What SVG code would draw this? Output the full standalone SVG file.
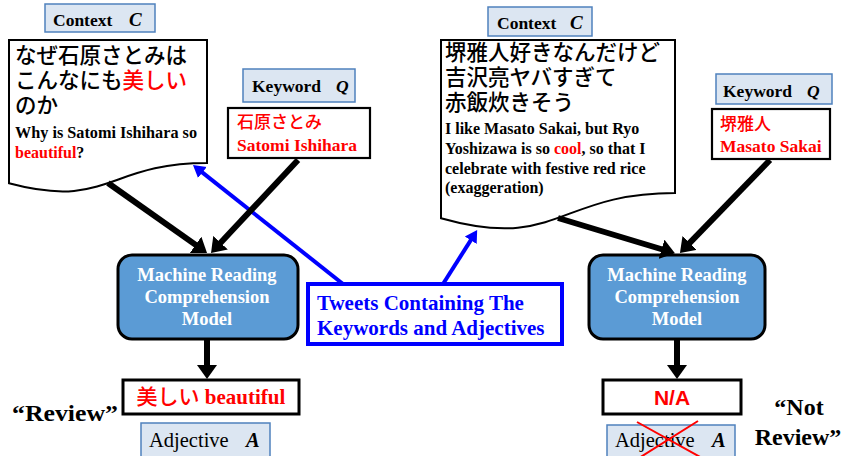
<svg xmlns="http://www.w3.org/2000/svg" width="844" height="456" viewBox="0 0 844 456">
<style>
.lbl{fill:#dce6f2;stroke:#4f81bd;stroke-width:1.5}
.doc{fill:#fff;stroke:#000;stroke-width:2}
.kw{fill:#fff;stroke:#000;stroke-width:2.2}
.mrc{fill:#5b9bd5;stroke:#000;stroke-width:3}
.ans{fill:#fff;stroke:#000;stroke-width:3}
.ser{font-family:"Liberation Serif","Times New Roman",serif}
.b{font-weight:bold}
.jp{font-family:"Noto Sans CJK JP","Noto Sans CJK SC",sans-serif;font-weight:500}
.red{fill:#ff0000}
.mt{font-family:"Liberation Serif",serif;font-weight:bold;font-size:18.5px;fill:#fff;text-anchor:middle}
.blk{stroke:#000;stroke-width:6;fill:none}
.blu{stroke:#0000ff;stroke-width:4;fill:none}
</style>
<defs>
<marker id="ah" markerUnits="userSpaceOnUse" markerWidth="16" markerHeight="20" refX="1" refY="10" orient="auto" viewBox="0 0 16 20">
<path d="M0,0 L14,10 L0,20 Z" fill="#000"/>
</marker>
<marker id="bh" markerUnits="userSpaceOnUse" markerWidth="14" markerHeight="16" refX="1" refY="8" orient="auto" viewBox="0 0 14 16">
<path d="M0,1 L12,8 L0,15 Z" fill="#0000ff"/>
</marker>
</defs>

<g id="context-left">
<rect class="lbl" x="45" y="4" width="110" height="28"/>
<text class="ser b" x="53" y="26" font-size="17.5">Context<tspan x="129" font-style="italic" font-size="19">C</tspan></text>
</g>
<g id="doc-left">
<path class="doc" d="M9,40 H207 V163 C108,163 108,209.8 9,183.3 Z"/>
<text class="jp" font-size="21.5" x="15" y="63">なぜ石原さとみは</text>
<text class="jp" font-size="21.5" x="15" y="88">こんなにも<tspan class="red">美しい</tspan></text>
<text class="jp" font-size="21.5" x="15" y="113">のか</text>
<text class="ser b" font-size="16" x="15" y="138" textLength="182" lengthAdjust="spacingAndGlyphs">Why is Satomi Ishihara so</text>
<text class="ser b" font-size="16" x="15" y="158"><tspan class="red">beautiful</tspan>?</text>
</g>
<g id="keyword-left">
<rect class="lbl" x="243" y="69" width="112" height="33"/>
<text class="ser b" x="252" y="92" font-size="17.5">Keyword<tspan x="336" font-style="italic">Q</tspan></text>
<rect class="kw" x="228" y="108" width="142" height="50"/>
<text class="jp red" x="237" y="128" font-size="17">石原さとみ</text>
<text class="ser b red" x="237" y="151" font-size="17.5">Satomi Ishihara</text>
</g>
<g id="model-left">
<rect class="mrc" x="118" y="255" width="180" height="84" rx="14"/>
<text class="mt" x="207" y="281">Machine Reading</text>
<text class="mt" x="207" y="303">Comprehension</text>
<text class="mt" x="207" y="325">Model</text>
</g>
<g id="answer-left">
<rect class="ans" x="123" y="380" width="176" height="34"/>
<text x="211" y="404" font-size="21" text-anchor="middle" class="red"><tspan class="jp">美しい</tspan><tspan class="ser b"> beautiful</tspan></text>
</g>
<g id="adjective-left">
<rect class="lbl" x="141" y="423" width="129" height="40"/>
<text class="ser" x="149" y="447" font-size="20.5">Adjective<tspan x="246" class="b" font-style="italic">A</tspan></text>
</g>
<g id="review-label">
<text class="ser b" x="12" y="421" font-size="24" textLength="106" lengthAdjust="spacingAndGlyphs">“Review”</text>
</g>

<g id="context-right">
<rect class="lbl" x="488" y="7" width="104" height="29"/>
<text class="ser b" x="497" y="29" font-size="17.5">Context<tspan x="570" font-style="italic" font-size="19">C</tspan></text>
</g>
<g id="doc-right">
<path class="doc" d="M441,40 H675 V193 C558,193 558,251.2 441,218.2 Z"/>
<text class="jp" font-size="21.5" x="445" y="60">堺雅人好きなんだけど</text>
<text class="jp" font-size="21.5" x="445" y="85">吉沢亮ヤバすぎて</text>
<text class="jp" font-size="21.5" x="445" y="110">赤飯炊きそう</text>
<text class="ser b" font-size="16" x="445" y="134">I like Masato Sakai, but Ryo</text>
<text class="ser b" font-size="16" x="445" y="154">Yoshizawa is so <tspan class="red">cool</tspan>, so that I</text>
<text class="ser b" font-size="16" x="445" y="174">celebrate with festive red rice</text>
<text class="ser b" font-size="16" x="445" y="193">(exaggeration)</text>
</g>
<g id="keyword-right">
<rect class="lbl" x="716" y="74" width="116" height="30"/>
<text class="ser b" x="723" y="97" font-size="17.5">Keyword<tspan x="807" font-style="italic">Q</tspan></text>
<rect class="kw" x="712" y="109" width="118" height="50"/>
<text class="jp red" x="720" y="130" font-size="17">堺雅人</text>
<text class="ser b red" x="720" y="152" font-size="17.5">Masato Sakai</text>
</g>
<g id="model-right">
<rect class="mrc" x="589" y="255" width="176" height="84" rx="14"/>
<text class="mt" x="677" y="281">Machine Reading</text>
<text class="mt" x="677" y="303">Comprehension</text>
<text class="mt" x="677" y="325">Model</text>
</g>
<g id="answer-right">
<rect class="ans" x="603" y="380" width="138" height="34"/>
<text x="672" y="405" font-size="21" text-anchor="middle" font-family="'Liberation Sans',Arial,sans-serif" font-weight="bold" class="red">N/A</text>
</g>
<g id="adjective-right">
<rect class="lbl" x="607" y="425" width="128" height="40"/>
<text class="ser" x="615" y="447" font-size="20.5">Adjective<tspan x="712" class="b" font-style="italic">A</tspan></text>
<path d="M637,422 L702,458 M698,421 L639,458" stroke="#ff0000" stroke-width="2" fill="none"/>
</g>
<g id="not-review-label">
<text class="ser b" x="799" y="415" font-size="24" text-anchor="middle">“Not</text>
<text class="ser b" x="798" y="445" font-size="24" text-anchor="middle">Review”</text>
</g>

<g id="tweets">
<rect x="308" y="284" width="254" height="60" fill="#fff" stroke="#0000ff" stroke-width="4"/>
<text class="ser b" x="317" y="310" font-size="21" fill="#0000ff">Tweets Containing The</text>
<text class="ser b" x="317" y="335" font-size="21" fill="#0000ff">Keywords and Adjectives</text>
</g>

<g id="connectors">
<path class="blu" d="M343,284 L201.6,171.9" marker-end="url(#bh)"/>
<path class="blu" d="M443,284 L471.3,239.4" marker-end="url(#bh)"/>
<path class="blk" d="M108,183 L196.4,245.4" marker-end="url(#ah)"/>
<path class="blk" d="M298,160 L219.9,243.5" marker-end="url(#ah)"/>
<path class="blk" d="M558,218 L662.5,249.5" marker-end="url(#ah)"/>
<path class="blk" d="M770,160 L689,243.7" marker-end="url(#ah)"/>
<path class="blk" d="M207,339 L207,366" marker-end="url(#ah)"/>
<path class="blk" d="M677,339 L677,366" marker-end="url(#ah)"/>
</g>
</svg>
